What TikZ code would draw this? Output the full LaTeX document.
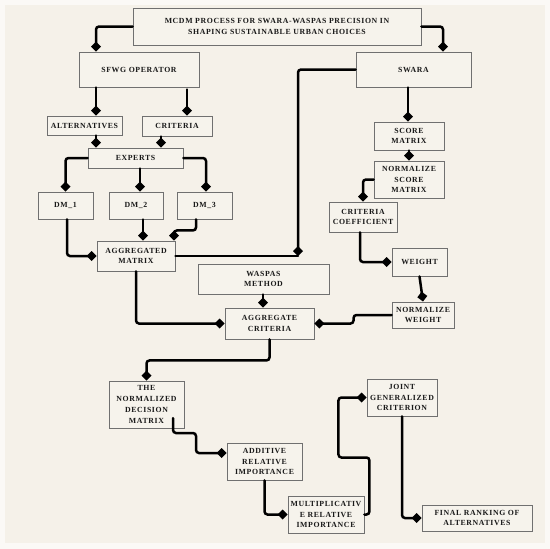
\documentclass[tikz,border=0pt]{standalone}
\usepackage{fontspec}
\setmainfont{Liberation Serif}
\newfontfamily\boxfont[LetterSpace=8]{Liberation Serif}
\usetikzlibrary{arrows.meta}
\definecolor{bgc}{HTML}{F5F1E9}
\definecolor{boxc}{HTML}{F6F3EC}
\definecolor{edgec}{HTML}{707070}
\tikzset{
  box/.style={draw=edgec, line width=0.9pt, fill=boxc, align=center, inner sep=1pt,
    font=\boxfont\bfseries\fontsize{7.8}{10.8}\selectfont, text=black!90},
  conn/.style={line width=2.5pt, rounded corners=3pt, line cap=round,
    -{Diamond[length=10pt,width=10pt]}},
  plain/.style={line width=2.5pt, rounded corners=3pt, line cap=round},
}
\begin{document}
\begin{tikzpicture}[x=1pt,y=-1pt]
\useasboundingbox (0,0) rectangle (550,549);
\fill[white!60!bgc] (0,0) rectangle (550,549);
\fill[bgc] (5,5) rectangle (545,543);
% nodes
\node[box, minimum width=288pt, minimum height=37pt] (title) at (277,26.5) {MCDM PROCESS FOR SWARA-WASPAS PRECISION IN\\SHAPING SUSTAINABLE URBAN CHOICES};
\node[box, minimum width=120pt, minimum height=35pt] (sfwg) at (139,69.5) {SFWG OPERATOR};
\node[box, minimum width=115pt, minimum height=35pt] (swara) at (413.5,69.5) {SWARA};
\node[box, minimum width=75pt, minimum height=19pt] (alt) at (84.5,125.5) {ALTERNATIVES};
\node[box, minimum width=70pt, minimum height=20pt] (crit) at (177,126) {CRITERIA};
\node[box, minimum width=95pt, minimum height=20pt] (experts) at (135.5,158) {EXPERTS};
\node[box, minimum width=55pt, minimum height=27pt] (dm1) at (65.5,205.5) {DM\_1};
\node[box, minimum width=54pt, minimum height=27pt] (dm2) at (136,205.5) {DM\_2};
\node[box, minimum width=55pt, minimum height=27pt] (dm3) at (204.5,205.5) {DM\_3};
\node[box, minimum width=78pt, minimum height=30pt] (aggm) at (136,256) {AGGREGATED\\MATRIX};
\node[box, minimum width=131pt, minimum height=30pt] (waspas) at (263.5,279) {WASPAS\\METHOD};
\node[box, minimum width=89pt, minimum height=31pt] (aggc) at (269.5,323.5) {AGGREGATE\\CRITERIA};
\node[box, minimum width=70pt, minimum height=28pt] (score) at (409,136) {SCORE\\MATRIX};
\node[box, minimum width=70pt, minimum height=37pt] (norms) at (409,179.5) {NORMALIZE\\SCORE\\MATRIX};
\node[box, minimum width=68pt, minimum height=30pt] (cc) at (363,217) {CRITERIA\\COEFFICIENT};
\node[box, minimum width=55pt, minimum height=28pt] (weight) at (419.5,262) {WEIGHT};
\node[box, minimum width=62pt, minimum height=26pt] (normw) at (423,315) {NORMALIZE\\WEIGHT};
\node[box, minimum width=75pt, minimum height=47pt] (tndm) at (146.5,404.5) {THE\\NORMALIZED\\DECISION\\MATRIX};
\node[box, minimum width=75pt, minimum height=37pt] (ari) at (264.5,461.5) {ADDITIVE\\RELATIVE\\IMPORTANCE};
\node[box, minimum width=76pt, minimum height=37pt] (mri) at (326,514.5) {MULTIPLICATIV\\E RELATIVE\\IMPORTANCE};
\node[box, minimum width=70pt, minimum height=37pt] (jgc) at (402,397.5) {JOINT\\GENERALIZED\\CRITERION};
\node[box, minimum width=110pt, minimum height=26pt] (final) at (477,518) {FINAL RANKING OF\\ALTERNATIVES};
\coordinate (swcorner) at (298,256);
% connectors
\draw[conn] (title.west) -| ([xshift=-43pt]sfwg.north);
\draw[conn] (title.east) -| ([xshift=29.5pt]swara.north);
\draw[conn] ([xshift=-43pt]sfwg.south) -- ([xshift=11.5pt]alt.north);
\draw[conn] ([xshift=48pt,yshift=-2pt]sfwg.south) -- ([xshift=10pt]crit.north);
\draw[conn] ([xshift=11.5pt]alt.south) -- ([xshift=-39.5pt]experts.north);
\draw[conn] ([xshift=-16pt]crit.south) -- ([xshift=25.5pt]experts.north);
\draw[conn] (experts.west) -| (dm1.north);
\draw[conn] ([xshift=4.5pt]experts.south) -- ([xshift=4pt]dm2.north);
\draw[conn] (experts.east) -| ([xshift=1.5pt]dm3.north);
\draw[conn] ([xshift=1.5pt]dm1.south) |- (aggm.west);
\draw[conn] ([xshift=7pt]dm2.south) -- ([xshift=7pt]aggm.north);
\draw[conn] ([xshift=-8.5pt]dm3.south) -- ++(0,11) -| ([xshift=38pt]aggm.north);
\draw[conn] (swara.west) -| (swcorner);
\draw[plain] (swcorner) -- (aggm.east);
\draw[conn] ([xshift=-0.5pt]waspas.south) -- ([xshift=-6.5pt]aggc.north);
\draw[conn] (aggm.south) |- (aggc.west);
\draw[conn] ([xshift=-5.5pt]swara.south) -- ([xshift=-1pt]score.north);
\draw[conn] (score.south) -- (norms.north);
\draw[conn] (norms.west) -| (cc.north);
\draw[conn] ([xshift=-3pt]cc.south) |- (weight.west);
\draw[conn] (weight.south) -- (normw.north);
\draw[conn] (normw.west) -- ++(-38,0) |- (aggc.east);
\draw[conn] (aggc.south) -- ++(0,21) -| (tndm.north);
\draw[conn] ([xshift=26.5pt,yshift=-13.5pt]tndm.center) -- ++(0,15) -- ++(23,0) |- ([yshift=8.5pt]ari.west);
\draw[conn] (ari.south) |- (mri.west);
\draw[conn] (mri.east) -- ++(5,0) -- ++(0,-57) -- ++(-31,0) |- (jgc.west);
\draw[conn] (jgc.south) |- (final.west);
\end{tikzpicture}
\end{document}
